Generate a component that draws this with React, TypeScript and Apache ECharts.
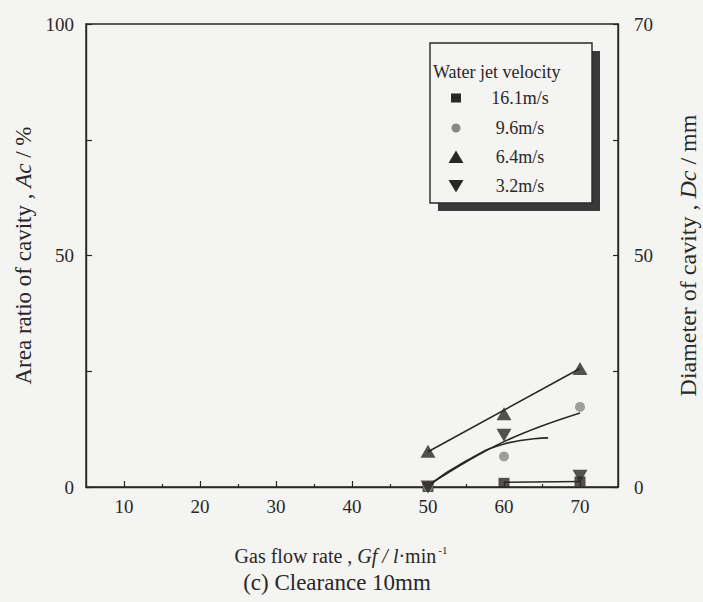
import React, { useEffect, useRef } from "react";
import * as echarts from "echarts";

const xTicks = [10, 20, 30, 40, 50, 60, 70];
const xMinorTicks = [15, 25, 35, 45, 55, 65];
const leftLabels = [0, 50, 100];
const rightLabelMap: Record<number, string> = { 0: "0", 50: "50", 100: "70" };

const legendNames = ["16.1m/s", "9.6m/s", "6.4m/s", "3.2m/s"];

// measured points [gas flow, area ratio %]
const pts161 = [[50, 0], [60, 0.9], [70, 1.2]];
const pts96 = [[50, 0], [60, 6.6], [70, 17.3]];
const pts64 = [[50, 7.7], [60, 15.8], [70, 25.6]];
const pts32 = [[50, 0], [60, 11.2], [70, 2.3]];

// fitted curves
const fit161 = [[60, 1.0], [70, 1.2]];
const fit96 = [[50, 0.3], [60, 9.8], [70, 16.0]];
const fit64 = [[50, 7.6], [70, 25.6]];
const fit32 = [[50, 0.3], [55, 5.6], [60, 9.3], [65.8, 10.6]];

const FONT = "Liberation Serif";
const INK = "#2a2727";
const BG = "#f4f4f2";

export default function App() {
  const ref = useRef<HTMLDivElement>(null);
  useEffect(() => {
    if (!ref.current) return;
    const chart = echarts.init(ref.current, undefined, { renderer: "svg" });
    const lineStyle = { color: INK, width: 1.6 };
    const fitSeries = (data: number[][], smooth: boolean | number) => ({
      type: "line",
      data,
      smooth,
      showSymbol: false,
      symbol: "none",
      lineStyle,
      silent: true,
      z: 2,
    });
    const lx = 456;
    const ly = [98, 128, 157, 186];
    const nameRich = (size: number) => ({
      n: { fontFamily: FONT, fontSize: size, color: INK },
      i: { fontFamily: FONT, fontSize: size, fontStyle: "italic", color: INK },
    });
    chart.setOption({
      animation: false,
      backgroundColor: BG,
      textStyle: { fontFamily: FONT, color: INK },
      title: {
        text: "(c) Clearance 10mm",
        left: 332,
        textAlign: "center",
        top: 566,
        textStyle: { fontFamily: FONT, fontSize: 23, fontWeight: "normal", color: INK },
      },
      grid: {
        left: 86,
        right: 85,
        top: 24,
        bottom: 115,
        outerBoundsMode: "none",
        containLabel: false,
        show: true,
        borderColor: INK,
        borderWidth: 1.4,
        backgroundColor: "transparent",
      },
      xAxis: [
        {
          type: "value",
          min: 5,
          max: 75,
          interval: 5,
          splitLine: { show: false },
          axisLine: { lineStyle: { color: INK, width: 1.4 } },
          axisTick: { inside: true, length: 6, customValues: xTicks, lineStyle: { color: INK, width: 1.2 } },
          axisLabel: {
            customValues: xTicks,
            fontFamily: FONT,
            fontSize: 19,
            color: INK,
            margin: 10,
          },
          name: "{n|Gas flow rate , }{i|Gf / l}{n|·min}{s|-1}",
          nameLocation: "middle",
          nameGap: 57,
          nameTextStyle: {
            padding: [0, 22, 0, 0],
            rich: {
              ...nameRich(20),
              s: { fontFamily: FONT, fontSize: 11, color: INK, verticalAlign: "top", padding: [0, 0, 12, 2] },
            },
          },
        },
        {
          type: "value",
          min: 5,
          max: 75,
          interval: 5,
          position: "bottom",
          splitLine: { show: false },
          axisLine: { show: false },
          axisTick: { inside: true, length: 3, customValues: xMinorTicks, lineStyle: { color: INK, width: 1.2 } },
          axisLabel: { show: false },
        },
      ],
      yAxis: [
        {
          type: "value",
          min: 0,
          max: 100,
          interval: 25,
          splitLine: { show: false },
          axisLine: { show: true, lineStyle: { color: INK, width: 1.4 } },
          axisTick: { inside: true, length: 6, lineStyle: { color: INK, width: 1.2 } },
          axisLabel: {
            customValues: leftLabels,
            fontFamily: FONT,
            fontSize: 19,
            color: INK,
            margin: 12,
          },
          name: "{n|Area ratio of cavity , }{i|Ac}{n| / %}",
          nameLocation: "middle",
          nameRotate: 90,
          nameGap: 42,
          nameTextStyle: { rich: nameRich(23) },
        },
        {
          type: "value",
          min: 0,
          max: 100,
          interval: 25,
          position: "right",
          splitLine: { show: false },
          axisLine: { show: true, lineStyle: { color: INK, width: 1.4 } },
          axisTick: { inside: true, length: 5, lineStyle: { color: INK, width: 1.2 } },
          axisLabel: {
            customValues: [0, 50, 100],
            formatter: (v: number) => rightLabelMap[v] ?? "",
            fontFamily: FONT,
            fontSize: 19,
            color: INK,
            margin: 16,
          },
          name: "{n|Diameter of cavity , }{i|Dc}{n| / mm}",
          nameLocation: "middle",
          nameRotate: 90,
          nameGap: 58,
          nameTextStyle: { rich: nameRich(24) },
        },
      ],
      series: [
        fitSeries(fit161, false),
        fitSeries(fit96, 0.4),
        fitSeries(fit64, false),
        fitSeries(fit32, 0.5),
        {
          name: legendNames[0],
          type: "scatter",
          data: pts161,
          symbol: "rect",
          symbolSize: [11, 10],
          itemStyle: { color: INK },
          z: 5,
        },
        {
          name: legendNames[1],
          type: "scatter",
          data: pts96,
          symbol: "circle",
          symbolSize: 10,
          itemStyle: { color: "#8a8886" },
          z: 5,
        },
        {
          name: legendNames[2],
          type: "scatter",
          data: pts64,
          symbol: "triangle",
          symbolSize: [15, 13],
          itemStyle: { color: INK },
          z: 5,
        },
        {
          name: legendNames[3],
          type: "scatter",
          data: pts32,
          symbol: "triangle",
          symbolRotate: 180,
          symbolSize: [15, 13],
          itemStyle: { color: INK },
          z: 5,
        },
      ],
      graphic: [
        { type: "rect", shape: { x: 438, y: 51, width: 162, height: 160 }, style: { fill: "#3a3838" }, z: 10 },
        {
          type: "rect",
          shape: { x: 430, y: 43, width: 162, height: 160 },
          style: { fill: BG, stroke: INK, lineWidth: 1.4 },
          z: 11,
        },
        {
          type: "text",
          x: 433,
          y: 72,
          style: { text: "Water jet velocity", font: `18px "${FONT}"`, fill: INK, textVerticalAlign: "middle" },
          z: 12,
        },
        { type: "rect", shape: { x: lx - 5, y: ly[0] - 4.5, width: 10, height: 9 }, style: { fill: INK }, z: 12 },
        { type: "circle", shape: { cx: lx, cy: ly[1], r: 4.5 }, style: { fill: "#8a8886" }, z: 12 },
        {
          type: "polygon",
          shape: { points: [[lx, ly[2] - 6.5], [lx + 7.5, ly[2] + 6], [lx - 7.5, ly[2] + 6]] },
          style: { fill: INK },
          z: 12,
        },
        {
          type: "polygon",
          shape: { points: [[lx - 7.5, ly[3] - 6], [lx + 7.5, ly[3] - 6], [lx, ly[3] + 6.5]] },
          style: { fill: INK },
          z: 12,
        },
        ...legendNames.map((t, i) => ({
          type: "text",
          x: 520,
          y: ly[i],
          style: {
            text: t,
            font: `18px "${FONT}"`,
            fill: INK,
            textAlign: "center",
            textVerticalAlign: "middle",
          },
          z: 12,
        })),
      ],
    });
    return () => chart.dispose();
  }, []);
  return (
    <div
      ref={ref}
      style={{ position: "fixed", left: 0, top: 0, width: 703, height: 602, background: BG }}
    />
  );
}
